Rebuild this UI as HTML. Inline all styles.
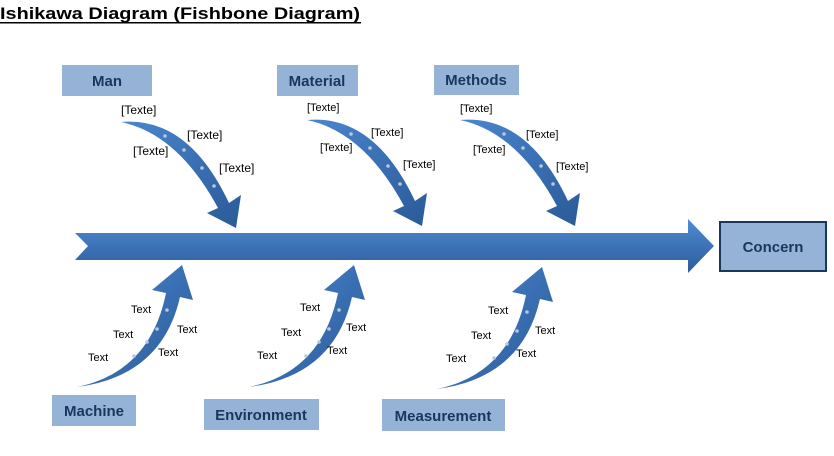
<!DOCTYPE html>
<html><head><meta charset="utf-8"><style>
html,body{margin:0;padding:0;background:#fff;width:834px;height:456px;overflow:hidden}
svg{display:block}
text{font-family:"Liberation Sans",sans-serif}
.lb{fill:#17375e;font-weight:bold;font-size:15px}
.t{font-size:12px;fill:#000}
.ts{font-size:11px;fill:#000}
</style></head><body>
<svg width="834" height="456" viewBox="0 0 834 456">
<defs>
<linearGradient id="g" x1="0" y1="0" x2="0" y2="1">
<stop offset="0" stop-color="#4f8ad2"/><stop offset="1" stop-color="#2c5d9c"/>
</linearGradient>
<linearGradient id="gd" x1="0" y1="0" x2="1" y2="1">
<stop offset="0" stop-color="#4a86cf"/><stop offset="1" stop-color="#2a5a98"/>
</linearGradient>
<g id="top">
<path d="M121,122 Q188,116 229,203 L241,195 L236,228 L207,213 L218,208 Q178,134 121,122 Z" fill="url(#gd)"/>
<circle cx="165" cy="136" r="1.8" fill="#b8c8dc"/><circle cx="184" cy="150" r="1.8" fill="#b8c8dc"/>
<circle cx="202" cy="168" r="1.8" fill="#b8c8dc"/><circle cx="214" cy="186" r="1.8" fill="#b8c8dc"/>
</g>
<g id="bot">
<path d="M77,387 Q150,372 166,293 L152,290 L182,265 L193,300 L180,297 Q162,376 77,387 Z" fill="url(#gd)"/>
<circle cx="134" cy="356" r="1.8" fill="#b8c8dc"/><circle cx="147" cy="342" r="1.8" fill="#b8c8dc"/>
<circle cx="157" cy="329" r="1.8" fill="#b8c8dc"/><circle cx="167" cy="310" r="1.8" fill="#b8c8dc"/>
</g>
</defs>
<text x="0" y="19" font-size="17" font-weight="bold" textLength="360" lengthAdjust="spacingAndGlyphs">Ishikawa Diagram (Fishbone Diagram)</text>
<rect x="0" y="22" width="361" height="1.5" fill="#000"/>

<path d="M75,233 L688,233 L688,219 L714,246 L688,273 L688,260 L75,260 L88,246 Z" fill="url(#g)"/>
<rect x="720" y="222" width="106" height="49" fill="#95b3d7" stroke="#17375e" stroke-width="2"/>
<text x="773" y="252" text-anchor="middle" class="lb">Concern</text>

<use href="#top"/>
<use href="#top" transform="translate(186,-2)"/>
<use href="#top" transform="translate(339,-2)"/>
<use href="#bot"/>
<use href="#bot" transform="translate(172,0)"/>
<use href="#bot" transform="translate(360,2)"/>

<rect x="62" y="65" width="90" height="31" fill="#95b3d7"/><text x="107" y="86" text-anchor="middle" class="lb">Man</text>
<rect x="277" y="65" width="81" height="31" fill="#95b3d7"/><text x="317" y="86" text-anchor="middle" class="lb">Material</text>
<rect x="434" y="65" width="85" height="30" fill="#95b3d7"/><text x="476" y="85" text-anchor="middle" class="lb">Methods</text>
<rect x="52" y="395" width="84" height="31" fill="#95b3d7"/><text x="94" y="416" text-anchor="middle" class="lb">Machine</text>
<rect x="204" y="399" width="115" height="31" fill="#95b3d7"/><text x="261" y="420" text-anchor="middle" class="lb">Environment</text>
<rect x="382" y="399" width="123" height="32" fill="#95b3d7"/><text x="443" y="421" text-anchor="middle" class="lb">Measurement</text>

<text class="t" x="121" y="114">[Texte]</text><text class="t" x="187" y="139">[Texte]</text>
<text class="t" x="133" y="155">[Texte]</text><text class="t" x="219" y="172">[Texte]</text>
<text class="ts" x="307" y="111">[Texte]</text><text class="ts" x="371" y="136">[Texte]</text>
<text class="ts" x="320" y="151">[Texte]</text><text class="ts" x="403" y="168">[Texte]</text>
<text class="ts" x="460" y="112">[Texte]</text><text class="ts" x="526" y="138">[Texte]</text>
<text class="ts" x="473" y="153">[Texte]</text><text class="ts" x="556" y="170">[Texte]</text>

<text class="ts" x="131" y="313">Text</text><text class="ts" x="113" y="338">Text</text><text class="ts" x="88" y="361">Text</text>
<text class="ts" x="177" y="333">Text</text><text class="ts" x="158" y="356">Text</text>
<text class="ts" x="300" y="311">Text</text><text class="ts" x="281" y="336">Text</text><text class="ts" x="257" y="359">Text</text>
<text class="ts" x="346" y="331">Text</text><text class="ts" x="327" y="354">Text</text>
<text class="ts" x="488" y="314">Text</text><text class="ts" x="471" y="339">Text</text><text class="ts" x="446" y="362">Text</text>
<text class="ts" x="535" y="334">Text</text><text class="ts" x="516" y="357">Text</text>
</svg>
</body></html>
